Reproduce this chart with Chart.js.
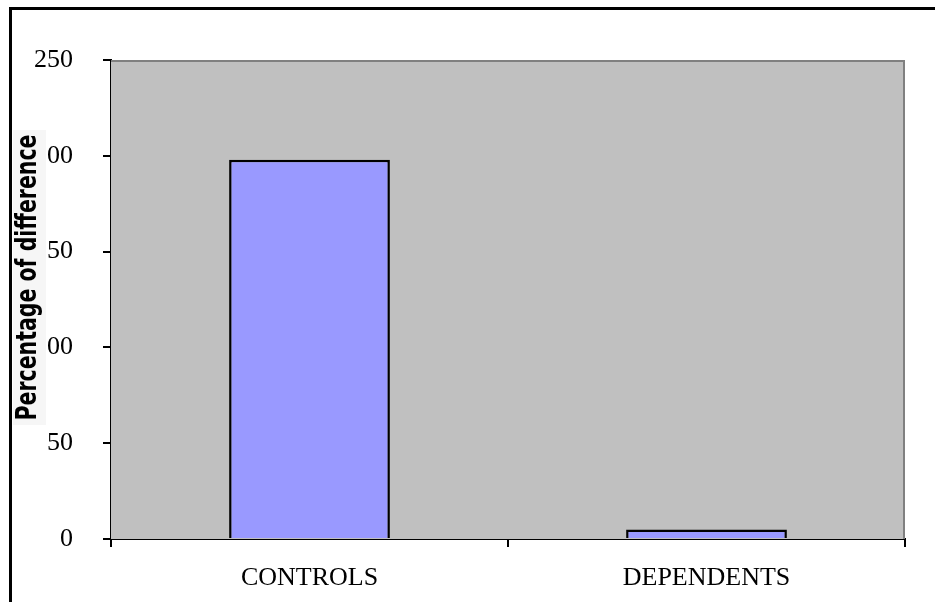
<!DOCTYPE html>
<html>
<head>
<meta charset="utf-8">
<script src="https://cdn.jsdelivr.net/npm/chart.js@4/dist/chart.umd.min.js"></script>
<style>
    html, body { margin: 0; padding: 0; background: #fff; }
    #wrap { position: relative; width: 935px; height: 602px; overflow: hidden; }
    #frame { position: absolute; left: 9px; top: 7px; width: 960px; height: 640px;
             border-left: 3px solid #000; border-top: 3px solid #000; }
    canvas { position: absolute; left: 0; top: 0; }
</style>
</head>
<body>
<div id="wrap">
    <div id="frame"></div>
    <canvas id="diffChart" width="935" height="602"></canvas>
</div>
<script>
const categories = ['CONTROLS', 'DEPENDENTS'];
const percentDiff = [198, 5];
const yTickValues = [0, 50, 100, 150, 200, 250];
const yTitle = 'Percentage of difference';

document.addEventListener('DOMContentLoaded', () => {
    const ctx = document.getElementById('diffChart').getContext('2d');

    // gray plot area with darker edge on top and right
    const plotBackground = {
        id: 'plotBackground',
        beforeDatasetsDraw(chart) {
            const { ctx, chartArea: a } = chart;
            ctx.save();
            ctx.fillStyle = '#C0C0C0';
            ctx.fillRect(a.left, a.top, a.right - a.left, a.bottom - a.top);
            ctx.strokeStyle = '#808080';
            ctx.lineWidth = 2;
            ctx.beginPath();
            ctx.moveTo(a.left, a.top + 1);
            ctx.lineTo(a.right - 1, a.top + 1);
            ctx.lineTo(a.right - 1, a.bottom);
            ctx.stroke();
            ctx.restore();
        }
    };

    // rotated axis title on a light box, laid over the tick labels
    const axisTitle = {
        id: 'axisTitle',
        afterDraw(chart) {
            const { ctx, chartArea: a } = chart;
            const boxLeft = 13, boxRight = 46;
            const boxTop = a.top + 70, boxBottom = a.bottom - 114;
            ctx.save();
            ctx.fillStyle = '#F6F6F6';
            ctx.fillRect(boxLeft, boxTop, boxRight - boxLeft, boxBottom - boxTop);
            ctx.translate(36, (boxTop + boxBottom) / 2);
            ctx.rotate(-Math.PI / 2);
            ctx.font = 'bold 28px "DejaVu Sans"';
            const w = ctx.measureText(yTitle).width;
            ctx.scale(286 / w, 1);
            ctx.fillStyle = '#000';
            ctx.textAlign = 'center';
            ctx.textBaseline = 'alphabetic';
            ctx.fillText(yTitle, 0, 0);
            ctx.restore();
        }
    };

    new Chart(ctx, {
        type: 'bar',
        data: {
            labels: categories,
            datasets: [{
                data: percentDiff,
                backgroundColor: '#9999FF',
                borderColor: '#000000',
                borderWidth: 2.5,
                borderSkipped: 'bottom',
                barPercentage: 0.405,
                categoryPercentage: 1
            }]
        },
        options: {
            responsive: false,
            devicePixelRatio: 1,
            animation: false,
            layout: { padding: { left: 0, top: 60, right: 30, bottom: 0 } },
            plugins: {
                legend: { display: false },
                tooltip: { enabled: false }
            },
            scales: {
                x: {
                    grid: { display: true, drawOnChartArea: false, offset: true,
                            color: '#000', lineWidth: 2, tickLength: 8 },
                    border: { color: '#000', width: 2 },
                    ticks: {
                        color: '#000', padding: 16,
                        font: { family: '"Liberation Serif"', size: 26 }
                    },
                    afterFit(scale) { scale.height = 63; }
                },
                y: {
                    min: yTickValues[0],
                    max: yTickValues[yTickValues.length - 1],
                    grid: { display: true, drawOnChartArea: false,
                            color: '#000', lineWidth: 2, tickLength: 8 },
                    border: { color: '#000', width: 2 },
                    afterBuildTicks(scale) {
                        scale.ticks = yTickValues.map(v => ({ value: v }));
                    },
                    ticks: {
                        color: '#000', padding: 30,
                        font: { family: '"Liberation Serif"', size: 26 }
                    },
                    afterFit(scale) { scale.width = 111; }
                }
            }
        },
        plugins: [plotBackground, axisTitle]
    });
});
</script>
</body>
</html>
